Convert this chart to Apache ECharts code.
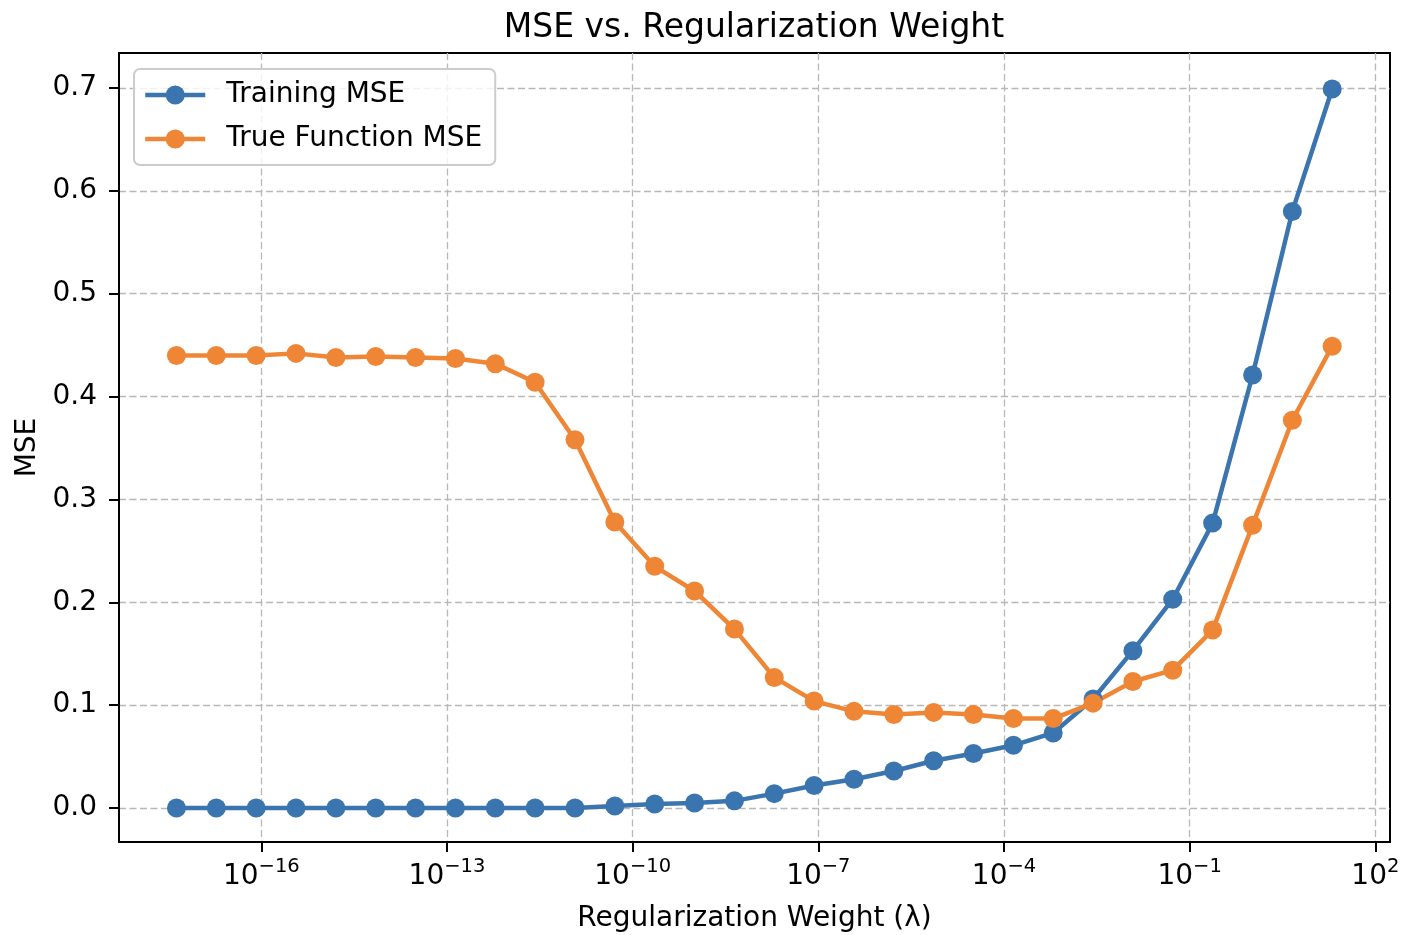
<!DOCTYPE html>
<html>
<head>
<meta charset="utf-8">
<title>MSE vs. Regularization Weight</title>
<script src="https://cdn.jsdelivr.net/npm/echarts@6/dist/echarts.min.js"></script>
<style>
    html, body { margin: 0; padding: 0; background: #fff; }
    #main { width: 1404px; height: 935px; }
</style>
</head>
<body>
<div id="main"></div>
<script>
    // regularization weights (lambda)
    const lambdas = [
        4.25e-18, 1.87e-17, 8.24e-17, 3.63e-16, 1.60e-15, 7.05e-15, 3.10e-14, 1.37e-13,
        6.03e-13, 2.65e-12, 1.17e-11, 5.15e-11, 2.27e-10, 1.00e-9, 4.41e-9, 1.94e-8,
        8.55e-8, 3.77e-7, 1.66e-6, 7.30e-6, 3.21e-5, 1.42e-4, 6.24e-4, 2.75e-3,
        1.21e-2, 5.33e-2, 0.235, 1.04, 4.56, 20.09
    ];
    const trainingMse = [
        0.000, 0.000, 0.000, 0.000, 0.000, 0.000, 0.000, 0.000, 0.000, 0.000,
        0.000, 0.002, 0.004, 0.005, 0.007, 0.014, 0.022, 0.028, 0.036, 0.046,
        0.053, 0.061, 0.073, 0.106, 0.153, 0.203, 0.277, 0.421, 0.580, 0.699
    ];
    const trueFunctionMse = [
        0.440, 0.440, 0.440, 0.442, 0.438, 0.439, 0.438, 0.437, 0.432, 0.414,
        0.358, 0.278, 0.235, 0.211, 0.174, 0.127, 0.104, 0.094, 0.091, 0.093,
        0.091, 0.087, 0.087, 0.102, 0.123, 0.134, 0.173, 0.275, 0.377, 0.449
    ];
    // tick positions (powers of ten) and y ticks
    const xTickExps = [-16, -13, -10, -7, -4, -1, 2];
    const yTicks = [0, 0.1, 0.2, 0.3, 0.4, 0.5, 0.6, 0.7];

    const font = 'DejaVu Sans';
    let myChart = echarts.init(document.getElementById('main'));

    // x is drawn on log10 of lambda
    const toPoints = (vals) => lambdas.map((l, i) => [Math.log10(l), vals[i]]);

    let option = {
        animation: false,
        backgroundColor: '#ffffff',
        textStyle: { fontFamily: font },
        title: {
            text: 'MSE vs. Regularization Weight',
            left: 754,
            top: 12,
            padding: 0,
            textAlign: 'center',
            textStyle: { fontFamily: font, fontSize: 33, fontWeight: 'normal', color: '#000' }
        },
        grid: {
            left: 119, right: 14, top: 53, bottom: 93,
            outerBoundsMode: 'none',
            show: true, borderColor: '#000', borderWidth: 2, backgroundColor: 'transparent'
        },
        legend: {
            orient: 'vertical',
            left: 134, top: 69,
            padding: [12, 13, 12, 9],
            itemWidth: 60, itemHeight: 24, itemGap: 16,
            backgroundColor: 'rgba(255,255,255,0.8)',
            borderColor: '#cccccc', borderWidth: 2, borderRadius: 6,
            lineStyle: { width: 4.5 },
            textStyle: { fontFamily: font, fontSize: 28, color: '#000', padding: [0, 0, 0, 16] },
            data: ['Training MSE', 'True Function MSE']
        },
        xAxis: {
            type: 'value',
            min: -18.30, max: 2.237,
            name: 'Regularization Weight (λ)',
            nameLocation: 'middle',
            nameGap: 63,
            nameTextStyle: { fontFamily: font, fontSize: 28, color: '#000' },
            axisLine: { onZero: false, lineStyle: { color: '#000', width: 2 } },
            axisTick: { show: true, customValues: xTickExps, length: 10, lineStyle: { color: '#000', width: 2 } },
            axisLabel: {
                customValues: xTickExps,
                margin: 15,
                formatter: (v) => '{b|10}{s|' + (v < 0 ? '\u2212' + Math.abs(v) : v) + '}',
                rich: {
                    b: { fontFamily: font, fontSize: 28, color: '#000', verticalAlign: 'bottom', lineHeight: 34 },
                    s: { fontFamily: font, fontSize: 19.5, color: '#000', verticalAlign: 'top', lineHeight: 20 }
                }
            },
            splitLine: { show: true, lineStyle: { color: '#b8b8b8', width: 1.3, type: [7, 3.5] } }
        },
        yAxis: {
            type: 'value',
            min: -0.033, max: 0.734,
            name: 'MSE',
            nameLocation: 'middle',
            nameGap: 66,
            nameTextStyle: { fontFamily: font, fontSize: 28, color: '#000' },
            axisLine: { show: true, onZero: false, lineStyle: { color: '#000', width: 2 } },
            axisTick: { show: true, customValues: yTicks, length: 10, lineStyle: { color: '#000', width: 2 } },
            axisLabel: {
                customValues: yTicks,
                margin: 22,
                fontFamily: font, fontSize: 28, color: '#000',
                formatter: (v) => v.toFixed(1)
            },
            splitLine: { show: true, lineStyle: { color: '#b8b8b8', width: 1.3, type: [7, 3.5] } }
        },
        series: [
            {
                name: 'Training MSE',
                type: 'line',
                data: toPoints(trainingMse),
                symbol: 'circle', symbolSize: 19, showAllSymbol: true,
                lineStyle: { width: 4.5, color: '#3b75af' },
                itemStyle: { color: '#3b75af' }
            },
            {
                name: 'True Function MSE',
                type: 'line',
                data: toPoints(trueFunctionMse),
                symbol: 'circle', symbolSize: 19, showAllSymbol: true,
                lineStyle: { width: 4.5, color: '#ef8636' },
                itemStyle: { color: '#ef8636' }
            }
        ]
    };
    myChart.setOption(option);
</script>
</body>
</html>
